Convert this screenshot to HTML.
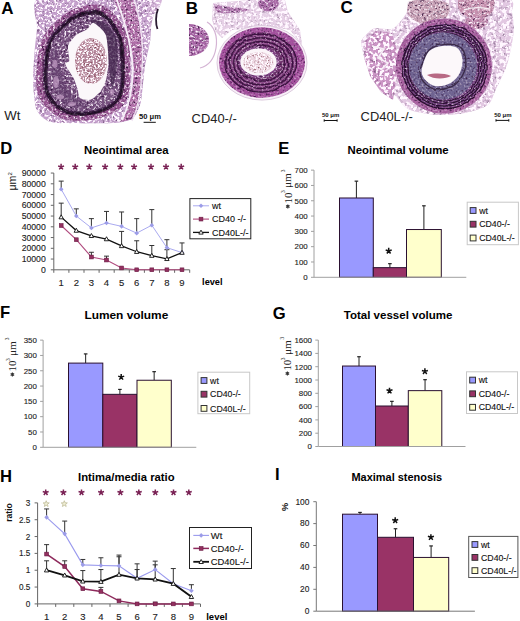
<!DOCTYPE html>
<html><head><meta charset="utf-8"><title>Figure</title>
<style>
html,body{margin:0;padding:0;background:#fff;}
body{width:520px;height:621px;overflow:hidden;font-family:"Liberation Sans",sans-serif;}
svg{display:block;}
</style></head><body>
<svg width="520" height="621" viewBox="0 0 520 621">
<rect width="520" height="621" fill="#fff"/>
<defs>
<filter id="lace" x="0" y="0" width="1" height="1" filterUnits="objectBoundingBox" color-interpolation-filters="sRGB">
    <feTurbulence type="fractalNoise" baseFrequency="0.4" numOctaves="2" seed="7" result="n"/>
    <feColorMatrix in="n" type="matrix" values="0 0 0 0 1  0 0 0 0 0.97  0 0 0 0 1  7.04 0 0 0 -3.41" result="sp"/>
    <feGaussianBlur in="sp" stdDeviation="0.35" result="spb"/>
    <feComposite in="spb" in2="SourceAlpha" operator="in" result="spc"/>
    <feColorMatrix in="n" type="matrix" values="0 0 0 0 0.18  0 0 0 0 0.06  0 0 0 0 0.22  0 -1.92 0 0 0.87" result="dk"/>
    <feGaussianBlur in="dk" stdDeviation="0.35" result="dkb"/>
    <feComposite in="dkb" in2="SourceAlpha" operator="in" result="dkc"/>
    <feMerge><feMergeNode in="SourceGraphic"/><feMergeNode in="dkc"/><feMergeNode in="spc"/></feMerge>
  </filter>
<filter id="laceC" x="0" y="0" width="1" height="1" filterUnits="objectBoundingBox" color-interpolation-filters="sRGB">
    <feTurbulence type="fractalNoise" baseFrequency="0.3" numOctaves="2" seed="13" result="n"/>
    <feColorMatrix in="n" type="matrix" values="0 0 0 0 1  0 0 0 0 0.97  0 0 0 0 1  8.96 0 0 0 -4.34" result="sp"/>
    <feGaussianBlur in="sp" stdDeviation="0.4" result="spb"/>
    <feComposite in="spb" in2="SourceAlpha" operator="in" result="spc"/>
    <feColorMatrix in="n" type="matrix" values="0 0 0 0 0.18  0 0 0 0 0.06  0 0 0 0 0.22  0 -1.60 0 0 0.72" result="dk"/>
    <feGaussianBlur in="dk" stdDeviation="0.4" result="dkb"/>
    <feComposite in="dkb" in2="SourceAlpha" operator="in" result="dkc"/>
    <feMerge><feMergeNode in="SourceGraphic"/><feMergeNode in="dkc"/><feMergeNode in="spc"/></feMerge>
  </filter>
<filter id="laceB" x="0" y="0" width="1" height="1" filterUnits="objectBoundingBox" color-interpolation-filters="sRGB">
    <feTurbulence type="fractalNoise" baseFrequency="0.35" numOctaves="2" seed="17" result="n"/>
    <feColorMatrix in="n" type="matrix" values="0 0 0 0 1  0 0 0 0 0.97  0 0 0 0 1  8.32 0 0 0 -4.03" result="sp"/>
    <feGaussianBlur in="sp" stdDeviation="0.35" result="spb"/>
    <feComposite in="spb" in2="SourceAlpha" operator="in" result="spc"/>
    <feColorMatrix in="n" type="matrix" values="0 0 0 0 0.18  0 0 0 0 0.06  0 0 0 0 0.22  0 -1.28 0 0 0.58" result="dk"/>
    <feGaussianBlur in="dk" stdDeviation="0.35" result="dkb"/>
    <feComposite in="dkb" in2="SourceAlpha" operator="in" result="dkc"/>
    <feMerge><feMergeNode in="SourceGraphic"/><feMergeNode in="dkc"/><feMergeNode in="spc"/></feMerge>
  </filter>
<filter id="mot" x="0" y="0" width="1" height="1" filterUnits="objectBoundingBox" color-interpolation-filters="sRGB">
    <feTurbulence type="fractalNoise" baseFrequency="0.45" numOctaves="2" seed="11" result="n"/>
    <feColorMatrix in="n" type="matrix" values="0 0 0 0 1  0 0 0 0 0.97  0 0 0 0 1  3.20 0 0 0 -1.55" result="sp"/>
    <feGaussianBlur in="sp" stdDeviation="0.35" result="spb"/>
    <feComposite in="spb" in2="SourceAlpha" operator="in" result="spc"/>
    <feColorMatrix in="n" type="matrix" values="0 0 0 0 0.18  0 0 0 0 0.06  0 0 0 0 0.22  0 -3.20 0 0 1.45" result="dk"/>
    <feGaussianBlur in="dk" stdDeviation="0.35" result="dkb"/>
    <feComposite in="dkb" in2="SourceAlpha" operator="in" result="dkc"/>
    <feMerge><feMergeNode in="SourceGraphic"/><feMergeNode in="dkc"/><feMergeNode in="spc"/></feMerge>
  </filter>
<filter id="mot2" x="0" y="0" width="1" height="1" filterUnits="objectBoundingBox" color-interpolation-filters="sRGB">
    <feTurbulence type="fractalNoise" baseFrequency="0.5" numOctaves="2" seed="29" result="n"/>
    <feColorMatrix in="n" type="matrix" values="0 0 0 0 1  0 0 0 0 0.97  0 0 0 0 1  2.56 0 0 0 -1.24" result="sp"/>
    <feGaussianBlur in="sp" stdDeviation="0.3" result="spb"/>
    <feComposite in="spb" in2="SourceAlpha" operator="in" result="spc"/>
    <feColorMatrix in="n" type="matrix" values="0 0 0 0 0.18  0 0 0 0 0.06  0 0 0 0 0.22  0 -3.84 0 0 1.74" result="dk"/>
    <feGaussianBlur in="dk" stdDeviation="0.3" result="dkb"/>
    <feComposite in="dkb" in2="SourceAlpha" operator="in" result="dkc"/>
    <feMerge><feMergeNode in="SourceGraphic"/><feMergeNode in="dkc"/><feMergeNode in="spc"/></feMerge>
  </filter>
<filter id="motS" x="0" y="0" width="1" height="1" filterUnits="objectBoundingBox" color-interpolation-filters="sRGB">
    <feTurbulence type="fractalNoise" baseFrequency="0.5" numOctaves="2" seed="31" result="n"/>
    <feColorMatrix in="n" type="matrix" values="0 0 0 0 1  0 0 0 0 0.97  0 0 0 0 1  1.44 0 0 0 -0.70" result="sp"/>
    <feGaussianBlur in="sp" stdDeviation="0.3" result="spb"/>
    <feComposite in="spb" in2="SourceAlpha" operator="in" result="spc"/>
    <feColorMatrix in="n" type="matrix" values="0 0 0 0 0.18  0 0 0 0 0.06  0 0 0 0 0.22  0 -2.88 0 0 1.30" result="dk"/>
    <feGaussianBlur in="dk" stdDeviation="0.3" result="dkb"/>
    <feComposite in="dkb" in2="SourceAlpha" operator="in" result="dkc"/>
    <feMerge><feMergeNode in="SourceGraphic"/><feMergeNode in="dkc"/><feMergeNode in="spc"/></feMerge>
  </filter>
<filter id="clot" x="0" y="0" width="1" height="1" filterUnits="objectBoundingBox" color-interpolation-filters="sRGB">
    <feTurbulence type="fractalNoise" baseFrequency="0.55" numOctaves="2" seed="3" result="n"/>
    <feColorMatrix in="n" type="matrix" values="0 0 0 0 1  0 0 0 0 0.98  0 0 0 0 1  7.68 0 0 0 -3.72" result="sp"/>
    <feGaussianBlur in="sp" stdDeviation="0.3" result="spb"/>
    <feComposite in="spb" in2="SourceAlpha" operator="in" result="spc"/>
    <feColorMatrix in="n" type="matrix" values="0 0 0 0 0.45  0 0 0 0 0.2  0 0 0 0 0.25  0 -3.20 0 0 1.45" result="dk"/>
    <feGaussianBlur in="dk" stdDeviation="0.3" result="dkb"/>
    <feComposite in="dkb" in2="SourceAlpha" operator="in" result="dkc"/>
    <feMerge><feMergeNode in="SourceGraphic"/><feMergeNode in="dkc"/><feMergeNode in="spc"/></feMerge>
  </filter>
<filter id="wavy" x="-10%" y="-10%" width="120%" height="120%">
    <feTurbulence type="turbulence" baseFrequency="0.12" numOctaves="1" seed="5" result="t"/>
    <feDisplacementMap in="SourceGraphic" in2="t" scale="2.5" xChannelSelector="R" yChannelSelector="G" result="d"/>
    <feGaussianBlur in="d" stdDeviation="0.35"/>
  </filter>
  <filter id="b1"><feGaussianBlur stdDeviation="0.7"/></filter>
  <filter id="b05"><feGaussianBlur stdDeviation="0.45"/></filter>
  <filter id="b2"><feGaussianBlur stdDeviation="1.5"/></filter>
</defs>
<g id="imgA">
<path d="M39.8,-2.0C51.2,-4.9 140.3,-3.5 151.5,-2.0C162.7,-0.5 151.6,9.3 151.5,13.5C151.4,17.7 150.9,35.0 150.2,40.4C149.5,45.8 145.7,61.1 144.8,67.3C143.9,73.5 142.0,97.2 140.8,102.3C139.6,107.4 135.4,116.4 132.7,118.5C130.0,120.6 121.4,122.5 113.9,123.0C106.4,123.5 64.3,123.5 57.3,123.0C50.3,122.5 45.9,120.0 43.8,118.5C41.6,117.0 36.9,111.5 35.8,107.7C34.7,103.9 33.2,86.2 33.1,80.8C33.0,75.4 34.0,59.2 34.4,53.8C34.8,48.4 36.6,32.6 37.1,27.0C37.6,21.4 28.4,0.9 39.8,-2.0Z" fill="#c4a0cc" filter="url(#lace)"/>
<path d="M77.7,7.7C85.1,5.7 96.1,2.4 104.0,6.2C112.0,10.1 121.0,20.6 125.4,31.0C129.8,41.3 130.4,56.2 130.4,68.1C130.4,80.0 130.3,94.0 125.4,102.2C120.4,110.5 110.8,114.8 100.7,117.7C90.6,120.5 74.7,122.3 64.6,119.2C54.5,116.0 44.6,107.5 40.0,99.0C35.3,90.5 36.1,78.4 36.7,68.1C37.2,57.8 39.4,45.4 43.3,37.2C47.1,28.9 53.9,23.4 59.6,18.5C65.3,13.6 70.3,9.8 77.7,7.7Z" fill="#94528f" filter="url(#mot)"/>
<path d="M114,0 C124,22 133,45 134,70 C133,95 128,110 120,122 L133,119 C140,104 142,85 142,67 C143,45 140,20 133,0 Z" fill="#b06ea8" filter="url(#mot)"/>
<path d="M116.5,-1 C126,25 132.5,50 132.7,70 C132.5,92 128,108 122,120" stroke="#f6eef8" stroke-width="1.8" fill="none" filter="url(#b05)"/>
<path d="M134,-1 C141,20 143.5,45 142,70 C141,90 138,108 132,121" stroke="#f0e4f2" stroke-width="1.2" fill="none" filter="url(#b05)"/>
<path d="M78.4,12.2C84.9,10.3 94.7,7.3 101.7,10.8C108.8,14.4 116.7,24.1 120.6,33.5C124.5,43.0 125.0,56.7 125.0,67.6C125.0,78.5 125.0,91.3 120.6,98.9C116.2,106.5 107.8,110.5 98.8,113.1C89.8,115.6 75.8,117.3 66.8,114.4C57.9,111.6 49.1,103.8 45.0,96.0C40.9,88.2 41.6,77.1 42.1,67.6C42.6,58.1 44.5,46.8 47.9,39.2C51.3,31.6 57.3,26.6 62.4,22.1C67.5,17.6 71.8,14.1 78.4,12.2Z" fill="#6c3468" filter="url(#mot2)"/>
<path d="M78.5,13.0C84.9,11.2 94.4,8.2 101.2,11.7C108.1,15.2 115.8,24.7 119.6,34.0C123.4,43.3 123.9,56.8 123.9,67.5C123.9,78.2 123.8,90.9 119.6,98.3C115.3,105.8 107.1,109.7 98.4,112.2C89.7,114.8 76.0,116.4 67.3,113.6C58.6,110.8 50.1,103.1 46.1,95.4C42.1,87.7 42.8,76.8 43.3,67.5C43.7,58.2 45.6,47.0 48.9,39.6C52.2,32.1 58.1,27.2 63.0,22.8C67.9,18.3 72.2,14.9 78.5,13.0Z" fill="#4c2856" filter="url(#mot2)"/>
<path d="M79.0,16.1C84.8,14.4 93.5,11.6 99.8,14.9C106.1,18.1 113.2,27.0 116.7,35.8C120.2,44.5 120.7,57.1 120.7,67.2C120.7,77.2 120.6,89.0 116.7,96.0C112.8,103.0 105.2,106.7 97.2,109.0C89.2,111.4 76.7,112.9 68.7,110.3C60.6,107.7 52.8,100.5 49.2,93.3C45.5,86.1 46.1,75.9 46.6,67.2C47.0,58.4 48.7,48.0 51.8,41.0C54.8,34.0 60.2,29.4 64.7,25.3C69.2,21.1 73.1,17.9 79.0,16.1Z" fill="#77507f" filter="url(#mot)"/>
<path d="M78.6,13.6C84.9,11.8 94.2,8.8 100.9,12.3C107.7,15.7 115.3,25.1 119.0,34.3C122.7,43.5 123.2,56.8 123.2,67.4C123.2,78.0 123.2,90.5 119.0,97.9C114.8,105.2 106.7,109.1 98.1,111.6C89.6,114.1 76.2,115.7 67.6,112.9C59.0,110.2 50.7,102.6 46.7,95.0C42.8,87.4 43.5,76.6 44.0,67.4C44.4,58.2 46.3,47.2 49.5,39.9C52.8,32.5 58.5,27.6 63.4,23.3C68.2,18.9 72.4,15.4 78.6,13.6Z" fill="none" stroke="#1e0c22" stroke-width="0.9" filter="url(#wavy)"/>
<path d="M78.8,14.6C84.9,12.8 93.9,9.9 100.5,13.3C107.0,16.7 114.5,25.9 118.1,34.9C121.7,43.9 122.2,56.9 122.2,67.3C122.2,77.7 122.1,89.9 118.1,97.1C114.0,104.4 106.1,108.1 97.8,110.6C89.4,113.1 76.4,114.6 68.0,111.9C59.7,109.2 51.6,101.8 47.7,94.3C43.9,86.9 44.6,76.3 45.0,67.3C45.5,58.3 47.3,47.5 50.4,40.3C53.6,33.1 59.2,28.3 63.9,24.0C68.6,19.8 72.7,16.4 78.8,14.6Z" fill="none" stroke="#1e0c22" stroke-width="1.1" filter="url(#wavy)"/>
<path d="M78.9,15.7C84.8,14.0 93.6,11.2 100.0,14.5C106.3,17.8 113.5,26.8 117.1,35.5C120.6,44.3 121.0,57.1 121.0,67.2C121.0,77.3 121.0,89.3 117.1,96.3C113.1,103.3 105.5,107.0 97.4,109.4C89.3,111.8 76.6,113.4 68.5,110.7C60.4,108.1 52.5,100.8 48.8,93.6C45.1,86.3 45.7,76.0 46.2,67.2C46.6,58.4 48.4,47.9 51.4,40.8C54.5,33.8 59.9,29.1 64.5,25.0C69.1,20.8 73.0,17.5 78.9,15.7Z" fill="none" stroke="#2a1430" stroke-width="1" filter="url(#wavy)"/>
<path d="M52,50 C50,70 52,90 62,102 C70,108 80,108 88,106 C76,100 66,90 62,75 C60,65 58,55 56,48 Z" fill="#5e3a6a" opacity="0.55" filter="url(#b1)"/>
<path d="M90,20 C102,18 113,27 117,40 C119,55 117,75 112,90 C109,70 108,50 104,38 C100,30 95,25 90,20 Z" fill="#42264e" opacity="0.7" filter="url(#b1)"/>
<g fill="#c6a0c8" opacity="0.7" filter="url(#b1)"><ellipse cx="56" cy="82" rx="3" ry="6"/><ellipse cx="60" cy="97" rx="4" ry="2.5"/><ellipse cx="55" cy="64" rx="2.5" ry="4"/><ellipse cx="72" cy="104" rx="4" ry="2"/><ellipse cx="112" cy="92" rx="2" ry="3"/></g>
<path d="M93.7,22.9C95.9,23.5 104.1,30.4 105.8,35.0C107.5,39.5 108.5,56.6 108.5,61.9C108.5,67.2 106.7,77.3 105.8,80.8C104.9,84.3 102.1,89.3 100.4,91.5C98.7,93.7 93.4,98.8 91.0,99.6C88.6,100.4 81.8,99.5 80.2,98.3C78.6,97.1 78.3,91.3 77.5,88.9C76.7,86.5 74.8,80.5 73.5,78.0C72.2,75.5 67.6,69.0 66.7,67.3C65.8,65.6 65.1,64.1 65.4,63.3C65.7,62.5 69.1,62.6 69.4,60.6C69.7,58.6 67.3,48.8 68.1,45.8C68.9,42.8 74.0,36.9 76.2,35.0C78.4,33.1 84.9,31.0 86.9,29.6C88.9,28.2 91.5,22.3 93.7,22.9Z" fill="#fbf7fa" filter="url(#b05)"/>
<ellipse cx="91" cy="61" rx="16" ry="23" fill="#c49aac" filter="url(#clot)"/>
<ellipse cx="91" cy="62" rx="10" ry="15" fill="#a87a90" opacity="0.45" filter="url(#clot)"/>
<path d="M148,0 L162,0 C161,6 158,10 154,14 C152,20 151,26 150,32 L148,20 Z" fill="#d4b4d8" filter="url(#lace)"/>
<path d="M158,9 C155.5,15 155.5,24 157.5,29" stroke="#2a1a30" stroke-width="1.8" fill="none" filter="url(#b05)"/>
</g>
<g id="imgB">
<path d="M213,3 L250,0 L285,0 L288,12 L300,30 L302,45 L290,30 L270,26 L250,28 L232,30 L222,38 L216,32 L212,20 Z" fill="#e6d0e6" filter="url(#laceB)"/>
<path d="M214,4 C225,8 238,6 250,10 C238,14 224,14 216,12 Z" fill="#b27ab0" filter="url(#mot)"/>
<path d="M207,22 C214,26 218,36 216,48 C214,60 208,66 200,68" stroke="#d4b4d4" stroke-width="1.2" fill="none"/>
<ellipse cx="268.5" cy="2" rx="10.5" ry="9.5" fill="#a86aa6" filter="url(#mot)"/>
<path d="M189,24 C200,24 209,31 209,40 C209,49 200,56 189,56 Z" fill="#a866a6" filter="url(#mot)"/>
<ellipse cx="262" cy="62.8" rx="45" ry="37.3" fill="#f8f0f8" stroke="#d4c0d6" stroke-width="0.8"/>
<ellipse cx="262" cy="62.5" rx="43" ry="35.3" fill="#a24e9c" filter="url(#motS)"/>
<ellipse cx="260.5" cy="62.3" rx="36.5" ry="29.8" fill="#6c2e6a" filter="url(#mot2)"/>
<ellipse cx="260.2" cy="62.2" rx="35.5" ry="29" fill="none" stroke="#3a1240" stroke-width="1.2" filter="url(#wavy)"/>
<ellipse cx="260.2" cy="62.2" rx="31.5" ry="25.3" fill="none" stroke="#3a1240" stroke-width="1.1" filter="url(#wavy)"/>
<ellipse cx="260.2" cy="62.2" rx="27.5" ry="21.6" fill="none" stroke="#3a1240" stroke-width="1.1" filter="url(#wavy)"/>
<ellipse cx="260.2" cy="62.2" rx="23.6" ry="18" fill="none" stroke="#3a1240" stroke-width="1.0" filter="url(#wavy)"/>
<ellipse cx="260.2" cy="62.2" rx="33.5" ry="27.1" fill="none" stroke="#a866a6" stroke-width="0.9" filter="url(#wavy)"/>
<ellipse cx="260.2" cy="62.2" rx="29.5" ry="23.4" fill="none" stroke="#a866a6" stroke-width="0.9" filter="url(#wavy)"/>
<ellipse cx="260.2" cy="62.2" rx="25.5" ry="19.8" fill="none" stroke="#a866a6" stroke-width="0.9" filter="url(#wavy)"/>
<ellipse cx="258.8" cy="62" rx="20.8" ry="16" fill="#804284" filter="url(#mot)"/>
<ellipse cx="258.5" cy="62" rx="18.2" ry="13.6" fill="#fbf5f9" filter="url(#b05)"/>
<ellipse cx="258.5" cy="62.5" rx="15" ry="10.5" fill="#ecd4e0" filter="url(#clot)"/>
</g>
<g id="imgC">
<path d="M362.0,39.7C363.6,37.2 369.9,30.1 374.0,28.6C378.1,27.1 388.8,30.5 393.0,28.6C397.2,26.7 403.5,17.7 405.8,14.3C408.1,10.9 407.1,5.2 410.5,3.2C413.9,1.2 418.1,-0.4 431.0,-1.0C443.9,-1.6 496.2,-2.8 507.0,-1.0C517.8,0.8 511.1,8.3 512.0,12.7C512.9,17.1 514.3,24.9 513.7,31.7C513.1,38.5 509.8,55.9 507.4,63.5C505.0,71.1 498.6,83.4 496.0,88.9C493.4,94.4 492.0,101.6 488.0,104.8C484.0,108.0 472.7,111.3 466.0,112.7C459.3,114.1 445.1,115.4 437.5,115.0C429.9,114.6 414.7,112.1 409.0,109.5C403.3,106.9 398.1,97.9 394.7,95.2C391.3,92.5 386.4,91.0 383.6,88.9C380.8,86.8 376.3,82.8 374.0,79.4C371.7,76.0 367.6,67.7 366.0,63.5C364.4,59.3 362.5,50.8 362.0,47.6C361.5,44.4 360.4,42.2 362.0,39.7Z" fill="#e2c8e2" filter="url(#laceC)"/>
<path d="M408,2 C420,-2 440,-2 449,4 C452,12 446,22 432,24 C420,25 410,20 407,12 Z" fill="#c7a0b4" filter="url(#mot)"/>
<path d="M458,0 L494,0 C496,8 492,17 480,19 C468,20 459,14 458,6 Z" fill="#c690ae" filter="url(#mot)"/>
<path d="M464,10 C472,7 480,7 489,9" stroke="#f6eef4" stroke-width="1.4" fill="none" filter="url(#b05)"/>
<path d="M464.5,20 C470,15 482,15 488,20 C488,26 482,29 476,29 C469,29 464,26 464.5,20 Z" fill="#c088ac" filter="url(#mot)"/>
<path d="M364,42 L376,31 L392,33 L398,55 L396,80 L393,100 L381,92 L370,76 L365,60 Z" fill="#cc96c6" filter="url(#laceC)"/>
<path d="M372,46 L384,49 L378,58 L388,63 L381,70" stroke="#f6eef6" stroke-width="1.6" fill="none" filter="url(#b05)"/>
<ellipse cx="443.9" cy="66" rx="48" ry="47.5" fill="#a65e9e" filter="url(#motS)"/>
<ellipse cx="443.9" cy="66" rx="42.5" ry="42" fill="#764482" filter="url(#mot2)"/>
<ellipse cx="443.9" cy="66" rx="42.3" ry="41.8" fill="none" stroke="#2a1030" stroke-width="1.3" filter="url(#wavy)"/>
<ellipse cx="443.9" cy="66" rx="39.6" ry="39.1" fill="none" stroke="#2a1030" stroke-width="1.2" filter="url(#wavy)"/>
<ellipse cx="443.9" cy="66" rx="37" ry="36.5" fill="none" stroke="#2a1030" stroke-width="1.2" filter="url(#wavy)"/>
<ellipse cx="443.9" cy="66" rx="34.6" ry="34.1" fill="none" stroke="#2a1030" stroke-width="1.0" filter="url(#wavy)"/>
<ellipse cx="442.9" cy="66" rx="34" ry="33.5" fill="#6e6290" filter="url(#motS)"/>
<path d="M421.1,63.2C422.5,59.1 424.6,52.2 428.1,49.0C431.7,45.7 437.3,44.2 442.3,43.6C447.4,43.0 454.6,43.0 458.4,45.4C462.1,47.8 464.1,53.1 464.7,57.8C465.3,62.6 464.2,69.3 461.9,73.8C459.7,78.4 455.6,82.8 451.2,85.3C446.7,87.7 439.7,89.1 435.3,88.7C430.8,88.3 427.2,85.3 424.5,82.8C421.9,80.3 419.8,77.1 419.3,73.8C418.7,70.6 419.6,67.3 421.1,63.2Z" fill="none" stroke="#3a2a48" stroke-width="1.4" filter="url(#wavy)"/>
<path d="M423.3,63.5C424.6,59.8 426.4,53.7 429.6,50.8C432.8,47.9 437.8,46.5 442.3,46.0C446.8,45.5 453.3,45.5 456.6,47.6C459.9,49.7 461.8,54.5 462.3,58.7C462.8,62.9 461.8,68.9 459.8,73.0C457.8,77.1 454.2,81.0 450.2,83.2C446.2,85.4 440.0,86.7 436.0,86.3C432.0,85.9 428.8,83.2 426.4,81.0C424.0,78.8 422.2,75.9 421.7,73.0C421.2,70.1 422.0,67.2 423.3,63.5Z" fill="#fcf8fa" filter="url(#b05)"/>
<path d="M427,75 C434,73 444,73 451,76 C446,79 434,80 427,75 Z" fill="#b86a84" filter="url(#b05)"/>
</g>
<text x="1.3" y="13.6" font-size="17" font-weight="bold" fill="#000" font-family="Liberation Sans, sans-serif">A</text>
<text x="185.8" y="13.6" font-size="17" font-weight="bold" fill="#000" font-family="Liberation Sans, sans-serif">B</text>
<text x="340.6" y="13.1" font-size="17" font-weight="bold" fill="#000" font-family="Liberation Sans, sans-serif">C</text>
<text x="4.2" y="119.9" font-size="13.2" fill="#222" font-family="Liberation Sans, sans-serif">Wt</text>
<text x="191.6" y="122.5" font-size="12.9" fill="#222" font-family="Liberation Sans, sans-serif">CD40-/-</text>
<text x="360.6" y="121.1" font-size="12.9" fill="#222" font-family="Liberation Sans, sans-serif">CD40L-/-</text>
<text x="139" y="119.3" font-size="7.6" font-weight="bold" fill="#111" font-family="Liberation Sans, sans-serif">50 μm</text>
<line x1="143.6" y1="122.3" x2="155.8" y2="122.3" stroke="#111" stroke-width="1"/>
<text x="322" y="116.8" font-size="6" font-weight="bold" fill="#111" font-family="Liberation Sans, sans-serif">50 μm</text>
<line x1="324.2" y1="120.5" x2="337.1" y2="120.5" stroke="#111" stroke-width="1"/>
<line x1="324.2" y1="119.3" x2="324.2" y2="121.7" stroke="#111" stroke-width="1"/>
<line x1="337.1" y1="119.3" x2="337.1" y2="121.7" stroke="#111" stroke-width="1"/>
<text x="494.2" y="117" font-size="6" font-weight="bold" fill="#111" font-family="Liberation Sans, sans-serif">50 μm</text>
<line x1="496" y1="120.4" x2="508.8" y2="120.4" stroke="#111" stroke-width="1"/>
<line x1="496" y1="119.2" x2="496" y2="121.6" stroke="#111" stroke-width="1"/>
<line x1="508.8" y1="119.2" x2="508.8" y2="121.6" stroke="#111" stroke-width="1"/>
<text x="0.2" y="154.4" font-size="16.6" text-anchor="start" font-weight="bold" fill="#000" font-family="Liberation Sans, sans-serif" >D</text>
<text x="84" y="154.4" font-size="11.3" text-anchor="start" font-weight="bold" fill="#000" font-family="Liberation Sans, sans-serif"  textLength="84.7" lengthAdjust="spacingAndGlyphs">Neointimal area</text>
<line x1="53.8" y1="173.05" x2="53.8" y2="269.8" stroke="#666" stroke-width="1"/>
<line x1="50.8" y1="269.80" x2="53.8" y2="269.80" stroke="#666" stroke-width="1"/>
<text x="45.8" y="272.90000000000003" font-size="8.7" text-anchor="end" fill="#222" font-family="Liberation Sans, sans-serif"  stroke="#222" stroke-width="0.12">0</text>
<line x1="50.8" y1="259.05" x2="53.8" y2="259.05" stroke="#666" stroke-width="1"/>
<text x="45.8" y="262.15000000000003" font-size="8.7" text-anchor="end" fill="#222" font-family="Liberation Sans, sans-serif"  stroke="#222" stroke-width="0.12">10000</text>
<line x1="50.8" y1="248.30" x2="53.8" y2="248.30" stroke="#666" stroke-width="1"/>
<text x="45.8" y="251.4" font-size="8.7" text-anchor="end" fill="#222" font-family="Liberation Sans, sans-serif"  stroke="#222" stroke-width="0.12">20000</text>
<line x1="50.8" y1="237.55" x2="53.8" y2="237.55" stroke="#666" stroke-width="1"/>
<text x="45.8" y="240.65" font-size="8.7" text-anchor="end" fill="#222" font-family="Liberation Sans, sans-serif"  stroke="#222" stroke-width="0.12">30000</text>
<line x1="50.8" y1="226.80" x2="53.8" y2="226.80" stroke="#666" stroke-width="1"/>
<text x="45.8" y="229.9" font-size="8.7" text-anchor="end" fill="#222" font-family="Liberation Sans, sans-serif"  stroke="#222" stroke-width="0.12">40000</text>
<line x1="50.8" y1="216.05" x2="53.8" y2="216.05" stroke="#666" stroke-width="1"/>
<text x="45.8" y="219.15" font-size="8.7" text-anchor="end" fill="#222" font-family="Liberation Sans, sans-serif"  stroke="#222" stroke-width="0.12">50000</text>
<line x1="50.8" y1="205.30" x2="53.8" y2="205.30" stroke="#666" stroke-width="1"/>
<text x="45.8" y="208.4" font-size="8.7" text-anchor="end" fill="#222" font-family="Liberation Sans, sans-serif"  stroke="#222" stroke-width="0.12">60000</text>
<line x1="50.8" y1="194.55" x2="53.8" y2="194.55" stroke="#666" stroke-width="1"/>
<text x="45.8" y="197.65" font-size="8.7" text-anchor="end" fill="#222" font-family="Liberation Sans, sans-serif"  stroke="#222" stroke-width="0.12">70000</text>
<line x1="50.8" y1="183.80" x2="53.8" y2="183.80" stroke="#666" stroke-width="1"/>
<text x="45.8" y="186.9" font-size="8.7" text-anchor="end" fill="#222" font-family="Liberation Sans, sans-serif"  stroke="#222" stroke-width="0.12">80000</text>
<line x1="50.8" y1="173.05" x2="53.8" y2="173.05" stroke="#666" stroke-width="1"/>
<text x="45.8" y="176.15" font-size="8.7" text-anchor="end" fill="#222" font-family="Liberation Sans, sans-serif"  stroke="#222" stroke-width="0.12">90000</text>
<line x1="53.8" y1="269.8" x2="189.6" y2="269.8" stroke="#666" stroke-width="1"/>
<line x1="53.80" y1="269.8" x2="53.80" y2="272.8" stroke="#666" stroke-width="1"/>
<line x1="68.90" y1="269.8" x2="68.90" y2="272.8" stroke="#666" stroke-width="1"/>
<line x1="84.00" y1="269.8" x2="84.00" y2="272.8" stroke="#666" stroke-width="1"/>
<line x1="99.10" y1="269.8" x2="99.10" y2="272.8" stroke="#666" stroke-width="1"/>
<line x1="114.20" y1="269.8" x2="114.20" y2="272.8" stroke="#666" stroke-width="1"/>
<line x1="129.30" y1="269.8" x2="129.30" y2="272.8" stroke="#666" stroke-width="1"/>
<line x1="144.40" y1="269.8" x2="144.40" y2="272.8" stroke="#666" stroke-width="1"/>
<line x1="159.50" y1="269.8" x2="159.50" y2="272.8" stroke="#666" stroke-width="1"/>
<line x1="174.60" y1="269.8" x2="174.60" y2="272.8" stroke="#666" stroke-width="1"/>
<line x1="189.70" y1="269.8" x2="189.70" y2="272.8" stroke="#666" stroke-width="1"/>
<text x="61.2" y="285.6" font-size="9.5" text-anchor="middle" fill="#222" font-family="Liberation Sans, sans-serif"  stroke="#222" stroke-width="0.12">1</text>
<text x="76.3" y="285.6" font-size="9.5" text-anchor="middle" fill="#222" font-family="Liberation Sans, sans-serif"  stroke="#222" stroke-width="0.12">2</text>
<text x="91.4" y="285.6" font-size="9.5" text-anchor="middle" fill="#222" font-family="Liberation Sans, sans-serif"  stroke="#222" stroke-width="0.12">3</text>
<text x="106.5" y="285.6" font-size="9.5" text-anchor="middle" fill="#222" font-family="Liberation Sans, sans-serif"  stroke="#222" stroke-width="0.12">4</text>
<text x="121.6" y="285.6" font-size="9.5" text-anchor="middle" fill="#222" font-family="Liberation Sans, sans-serif"  stroke="#222" stroke-width="0.12">5</text>
<text x="136.7" y="285.6" font-size="9.5" text-anchor="middle" fill="#222" font-family="Liberation Sans, sans-serif"  stroke="#222" stroke-width="0.12">6</text>
<text x="151.8" y="285.6" font-size="9.5" text-anchor="middle" fill="#222" font-family="Liberation Sans, sans-serif"  stroke="#222" stroke-width="0.12">7</text>
<text x="166.9" y="285.6" font-size="9.5" text-anchor="middle" fill="#222" font-family="Liberation Sans, sans-serif"  stroke="#222" stroke-width="0.12">8</text>
<text x="182.0" y="285.6" font-size="9.5" text-anchor="middle" fill="#222" font-family="Liberation Sans, sans-serif"  stroke="#222" stroke-width="0.12">9</text>
<line x1="61.20" y1="181.11" x2="61.20" y2="189.18" stroke="#333" stroke-width="1"/>
<line x1="58.70" y1="181.11" x2="63.70" y2="181.11" stroke="#333" stroke-width="1"/>
<line x1="76.30" y1="208.85" x2="76.30" y2="216.05" stroke="#333" stroke-width="1"/>
<line x1="73.80" y1="208.85" x2="78.80" y2="208.85" stroke="#333" stroke-width="1"/>
<line x1="91.40" y1="218.63" x2="91.40" y2="227.88" stroke="#333" stroke-width="1"/>
<line x1="88.90" y1="218.63" x2="93.90" y2="218.63" stroke="#333" stroke-width="1"/>
<line x1="106.50" y1="211.43" x2="106.50" y2="222.93" stroke="#333" stroke-width="1"/>
<line x1="104.00" y1="211.43" x2="109.00" y2="211.43" stroke="#333" stroke-width="1"/>
<line x1="121.60" y1="211.97" x2="121.60" y2="226.37" stroke="#333" stroke-width="1"/>
<line x1="119.10" y1="211.97" x2="124.10" y2="211.97" stroke="#333" stroke-width="1"/>
<line x1="136.70" y1="218.63" x2="136.70" y2="233.14" stroke="#333" stroke-width="1"/>
<line x1="134.20" y1="218.63" x2="139.20" y2="218.63" stroke="#333" stroke-width="1"/>
<line x1="151.80" y1="209.60" x2="151.80" y2="225.19" stroke="#333" stroke-width="1"/>
<line x1="149.30" y1="209.60" x2="154.30" y2="209.60" stroke="#333" stroke-width="1"/>
<line x1="166.90" y1="239.70" x2="166.90" y2="247.66" stroke="#333" stroke-width="1"/>
<line x1="164.40" y1="239.70" x2="169.40" y2="239.70" stroke="#333" stroke-width="1"/>
<line x1="91.40" y1="252.28" x2="91.40" y2="257.01" stroke="#333" stroke-width="1"/>
<line x1="88.90" y1="252.28" x2="93.90" y2="252.28" stroke="#333" stroke-width="1"/>
<line x1="106.50" y1="256.15" x2="106.50" y2="260.02" stroke="#333" stroke-width="1"/>
<line x1="104.00" y1="256.15" x2="109.00" y2="256.15" stroke="#333" stroke-width="1"/>
<line x1="61.20" y1="203.15" x2="61.20" y2="217.12" stroke="#333" stroke-width="1"/>
<line x1="58.70" y1="203.15" x2="63.70" y2="203.15" stroke="#333" stroke-width="1"/>
<line x1="121.60" y1="231.42" x2="121.60" y2="245.94" stroke="#333" stroke-width="1"/>
<line x1="119.10" y1="231.42" x2="124.10" y2="231.42" stroke="#333" stroke-width="1"/>
<line x1="136.70" y1="240.78" x2="136.70" y2="251.74" stroke="#333" stroke-width="1"/>
<line x1="134.20" y1="240.78" x2="139.20" y2="240.78" stroke="#333" stroke-width="1"/>
<line x1="151.80" y1="245.50" x2="151.80" y2="255.61" stroke="#333" stroke-width="1"/>
<line x1="149.30" y1="245.50" x2="154.30" y2="245.50" stroke="#333" stroke-width="1"/>
<line x1="166.90" y1="249.70" x2="166.90" y2="258.84" stroke="#333" stroke-width="1"/>
<line x1="164.40" y1="249.70" x2="169.40" y2="249.70" stroke="#333" stroke-width="1"/>
<line x1="182.00" y1="242.93" x2="182.00" y2="252.60" stroke="#333" stroke-width="1"/>
<line x1="179.50" y1="242.93" x2="184.50" y2="242.93" stroke="#333" stroke-width="1"/>
<polyline points="61.20,189.18 76.30,216.05 91.40,227.88 106.50,222.93 121.60,226.37 136.70,233.14 151.80,225.19 166.90,247.66 182.00,252.60" fill="none" stroke="#aaaaf0" stroke-width="1"/>
<path d="M61.20,186.88L63.50,189.18L61.20,191.48L58.90,189.18Z" fill="#9c9ce8"/>
<path d="M76.30,213.75L78.60,216.05L76.30,218.35L74.00,216.05Z" fill="#9c9ce8"/>
<path d="M91.40,225.57L93.70,227.88L91.40,230.18L89.10,227.88Z" fill="#9c9ce8"/>
<path d="M106.50,220.63L108.80,222.93L106.50,225.23L104.20,222.93Z" fill="#9c9ce8"/>
<path d="M121.60,224.07L123.90,226.37L121.60,228.67L119.30,226.37Z" fill="#9c9ce8"/>
<path d="M136.70,230.84L139.00,233.14L136.70,235.44L134.40,233.14Z" fill="#9c9ce8"/>
<path d="M151.80,222.89L154.10,225.19L151.80,227.49L149.50,225.19Z" fill="#9c9ce8"/>
<path d="M166.90,245.35L169.20,247.66L166.90,249.96L164.60,247.66Z" fill="#9c9ce8"/>
<path d="M182.00,250.30L184.30,252.60L182.00,254.90L179.70,252.60Z" fill="#9c9ce8"/>
<polyline points="61.20,225.51 76.30,239.70 91.40,257.01 106.50,260.02 121.60,267.97 136.70,269.80 151.80,269.80 166.90,269.80 182.00,269.80" fill="none" stroke="#b04a7e" stroke-width="1.1"/>
<rect x="59.30" y="223.61" width="3.8" height="3.8" fill="#93305f" stroke="#6a1a44" stroke-width="0.6"/>
<rect x="74.40" y="237.80" width="3.8" height="3.8" fill="#93305f" stroke="#6a1a44" stroke-width="0.6"/>
<rect x="89.50" y="255.11" width="3.8" height="3.8" fill="#93305f" stroke="#6a1a44" stroke-width="0.6"/>
<rect x="104.60" y="258.12" width="3.8" height="3.8" fill="#93305f" stroke="#6a1a44" stroke-width="0.6"/>
<rect x="119.70" y="266.07" width="3.8" height="3.8" fill="#93305f" stroke="#6a1a44" stroke-width="0.6"/>
<rect x="134.80" y="267.90" width="3.8" height="3.8" fill="#93305f" stroke="#6a1a44" stroke-width="0.6"/>
<rect x="149.90" y="267.90" width="3.8" height="3.8" fill="#93305f" stroke="#6a1a44" stroke-width="0.6"/>
<rect x="165.00" y="267.90" width="3.8" height="3.8" fill="#93305f" stroke="#6a1a44" stroke-width="0.6"/>
<rect x="180.10" y="267.90" width="3.8" height="3.8" fill="#93305f" stroke="#6a1a44" stroke-width="0.6"/>
<polyline points="61.20,217.12 76.30,230.56 91.40,235.83 106.50,239.06 121.60,245.94 136.70,251.74 151.80,255.61 166.90,258.84 182.00,252.60" fill="none" stroke="#111111" stroke-width="1.3"/>
<path d="M61.20,214.82L63.40,218.82L59.00,218.82Z" fill="#fff" stroke="#111" stroke-width="0.9"/>
<path d="M76.30,228.26L78.50,232.26L74.10,232.26Z" fill="#fff" stroke="#111" stroke-width="0.9"/>
<path d="M91.40,233.53L93.60,237.53L89.20,237.53Z" fill="#fff" stroke="#111" stroke-width="0.9"/>
<path d="M106.50,236.75L108.70,240.75L104.30,240.75Z" fill="#fff" stroke="#111" stroke-width="0.9"/>
<path d="M121.60,243.63L123.80,247.63L119.40,247.63Z" fill="#fff" stroke="#111" stroke-width="0.9"/>
<path d="M136.70,249.44L138.90,253.44L134.50,253.44Z" fill="#fff" stroke="#111" stroke-width="0.9"/>
<path d="M151.80,253.31L154.00,257.31L149.60,257.31Z" fill="#fff" stroke="#111" stroke-width="0.9"/>
<path d="M166.90,256.54L169.10,260.54L164.70,260.54Z" fill="#fff" stroke="#111" stroke-width="0.9"/>
<path d="M182.00,250.30L184.20,254.30L179.80,254.30Z" fill="#fff" stroke="#111" stroke-width="0.9"/>
<path d="M61.10,166.90L61.10,163.80M61.10,166.90L64.05,165.94M61.10,166.90L62.92,169.41M61.10,166.90L59.28,169.41M61.10,166.90L58.15,165.94" stroke="#7a2255" stroke-width="1.5" stroke-linecap="butt" fill="none"/>
<path d="M75.20,166.90L75.20,163.80M75.20,166.90L78.15,165.94M75.20,166.90L77.02,169.41M75.20,166.90L73.38,169.41M75.20,166.90L72.25,165.94" stroke="#7a2255" stroke-width="1.5" stroke-linecap="butt" fill="none"/>
<path d="M89.30,166.90L89.30,163.80M89.30,166.90L92.25,165.94M89.30,166.90L91.12,169.41M89.30,166.90L87.48,169.41M89.30,166.90L86.35,165.94" stroke="#7a2255" stroke-width="1.5" stroke-linecap="butt" fill="none"/>
<path d="M105.10,166.90L105.10,163.80M105.10,166.90L108.05,165.94M105.10,166.90L106.92,169.41M105.10,166.90L103.28,169.41M105.10,166.90L102.15,165.94" stroke="#7a2255" stroke-width="1.5" stroke-linecap="butt" fill="none"/>
<path d="M120.30,166.90L120.30,163.80M120.30,166.90L123.25,165.94M120.30,166.90L122.12,169.41M120.30,166.90L118.48,169.41M120.30,166.90L117.35,165.94" stroke="#7a2255" stroke-width="1.5" stroke-linecap="butt" fill="none"/>
<path d="M134.10,166.90L134.10,163.80M134.10,166.90L137.05,165.94M134.10,166.90L135.92,169.41M134.10,166.90L132.28,169.41M134.10,166.90L131.15,165.94" stroke="#7a2255" stroke-width="1.5" stroke-linecap="butt" fill="none"/>
<path d="M151.00,166.90L151.00,163.80M151.00,166.90L153.95,165.94M151.00,166.90L152.82,169.41M151.00,166.90L149.18,169.41M151.00,166.90L148.05,165.94" stroke="#7a2255" stroke-width="1.5" stroke-linecap="butt" fill="none"/>
<path d="M166.00,166.90L166.00,163.80M166.00,166.90L168.95,165.94M166.00,166.90L167.82,169.41M166.00,166.90L164.18,169.41M166.00,166.90L163.05,165.94" stroke="#7a2255" stroke-width="1.5" stroke-linecap="butt" fill="none"/>
<path d="M181.20,166.90L181.20,163.80M181.20,166.90L184.15,165.94M181.20,166.90L183.02,169.41M181.20,166.90L179.38,169.41M181.20,166.90L178.25,165.94" stroke="#7a2255" stroke-width="1.5" stroke-linecap="butt" fill="none"/>
<rect x="189.9" y="198.6" width="60.900000000000006" height="40.20000000000002" fill="#fff" stroke="#222" stroke-width="1"/>
<line x1="193" y1="205.8" x2="209" y2="205.8" stroke="#aaaaf0" stroke-width="1"/>
<path d="M201.00,203.50L203.30,205.80L201.00,208.10L198.70,205.80Z" fill="#9c9ce8"/>
<text x="212.1" y="209.0" font-size="9" text-anchor="start" fill="#111" font-family="Liberation Sans, sans-serif"  stroke="#111" stroke-width="0.12">wt</text>
<line x1="193" y1="219.1" x2="209" y2="219.1" stroke="#b04a7e" stroke-width="1.1"/>
<rect x="199.10" y="217.20" width="3.8" height="3.8" fill="#93305f" stroke="#6a1a44" stroke-width="0.6"/>
<text x="212.1" y="222.29999999999998" font-size="9" text-anchor="start" fill="#111" font-family="Liberation Sans, sans-serif"  stroke="#111" stroke-width="0.12">CD40 -/-</text>
<line x1="193" y1="232.4" x2="209" y2="232.4" stroke="#111111" stroke-width="1.3"/>
<path d="M201.00,230.10L203.20,234.10L198.80,234.10Z" fill="#fff" stroke="#111" stroke-width="0.9"/>
<text x="212.1" y="235.6" font-size="9" text-anchor="start" fill="#111" font-family="Liberation Sans, sans-serif"  stroke="#111" stroke-width="0.12">CD40L-/-</text>
<text x="212.3" y="284.9" font-size="9.2" text-anchor="middle" font-weight="bold" fill="#000" font-family="Liberation Sans, sans-serif" >level</text>
<text x="0" y="0" font-size="10.6" fill="#111" font-family="Liberation Sans, sans-serif" transform="translate(16,190.5) rotate(-90)">μm<tspan font-size="6" dy="-4.5">2</tspan></text>
<text x="278.3" y="154.4" font-size="16.6" text-anchor="start" font-weight="bold" fill="#000" font-family="Liberation Sans, sans-serif" >E</text>
<text x="347.5" y="154.2" font-size="11.3" text-anchor="start" font-weight="bold" fill="#000" font-family="Liberation Sans, sans-serif"  textLength="101.1" lengthAdjust="spacingAndGlyphs">Neointimal volume</text>
<line x1="314" y1="170.13" x2="314" y2="277.3" stroke="#a0a0a0" stroke-width="1"/>
<line x1="311" y1="277.30" x2="314" y2="277.30" stroke="#a0a0a0" stroke-width="1"/>
<text x="307.7" y="280.1" font-size="7.9" text-anchor="end" fill="#222" font-family="Liberation Sans, sans-serif"  stroke="#222" stroke-width="0.12">0</text>
<line x1="311" y1="261.99" x2="314" y2="261.99" stroke="#a0a0a0" stroke-width="1"/>
<text x="307.7" y="264.79" font-size="7.9" text-anchor="end" fill="#222" font-family="Liberation Sans, sans-serif"  stroke="#222" stroke-width="0.12">100</text>
<line x1="311" y1="246.68" x2="314" y2="246.68" stroke="#a0a0a0" stroke-width="1"/>
<text x="307.7" y="249.48000000000002" font-size="7.9" text-anchor="end" fill="#222" font-family="Liberation Sans, sans-serif"  stroke="#222" stroke-width="0.12">200</text>
<line x1="311" y1="231.37" x2="314" y2="231.37" stroke="#a0a0a0" stroke-width="1"/>
<text x="307.7" y="234.17000000000002" font-size="7.9" text-anchor="end" fill="#222" font-family="Liberation Sans, sans-serif"  stroke="#222" stroke-width="0.12">300</text>
<line x1="311" y1="216.06" x2="314" y2="216.06" stroke="#a0a0a0" stroke-width="1"/>
<text x="307.7" y="218.86" font-size="7.9" text-anchor="end" fill="#222" font-family="Liberation Sans, sans-serif"  stroke="#222" stroke-width="0.12">400</text>
<line x1="311" y1="200.75" x2="314" y2="200.75" stroke="#a0a0a0" stroke-width="1"/>
<text x="307.7" y="203.55" font-size="7.9" text-anchor="end" fill="#222" font-family="Liberation Sans, sans-serif"  stroke="#222" stroke-width="0.12">500</text>
<line x1="311" y1="185.44" x2="314" y2="185.44" stroke="#a0a0a0" stroke-width="1"/>
<text x="307.7" y="188.24" font-size="7.9" text-anchor="end" fill="#222" font-family="Liberation Sans, sans-serif"  stroke="#222" stroke-width="0.12">600</text>
<line x1="311" y1="170.13" x2="314" y2="170.13" stroke="#a0a0a0" stroke-width="1"/>
<text x="307.7" y="172.93" font-size="7.9" text-anchor="end" fill="#222" font-family="Liberation Sans, sans-serif"  stroke="#222" stroke-width="0.12">700</text>
<line x1="356.4" y1="181.15" x2="356.4" y2="197.99" stroke="#222" stroke-width="1"/>
<line x1="354.59999999999997" y1="181.15" x2="358.2" y2="181.15" stroke="#222" stroke-width="1.2"/>
<rect x="339.5" y="197.99" width="33.80000000000001" height="79.31" fill="#9999ff" stroke="#2a1030" stroke-width="1"/>
<line x1="389.9" y1="263.67" x2="389.9" y2="267.65" stroke="#222" stroke-width="1"/>
<line x1="388.09999999999997" y1="263.67" x2="391.7" y2="263.67" stroke="#222" stroke-width="1.2"/>
<rect x="373.3" y="267.65" width="33.19999999999999" height="9.65" fill="#993366" stroke="#2a1030" stroke-width="1"/>
<line x1="423.9" y1="205.80" x2="423.9" y2="229.53" stroke="#222" stroke-width="1"/>
<line x1="422.09999999999997" y1="205.80" x2="425.7" y2="205.80" stroke="#222" stroke-width="1.2"/>
<rect x="406.5" y="229.53" width="34.80000000000001" height="47.77" fill="#ffffcc" stroke="#2a1030" stroke-width="1"/>
<line x1="314" y1="277.3" x2="466.3" y2="277.3" stroke="#a0a0a0" stroke-width="1"/>
<path d="M388.70,251.00L388.70,247.85M388.70,251.00L391.70,250.03M388.70,251.00L390.55,253.55M388.70,251.00L386.85,253.55M388.70,251.00L385.70,250.03" stroke="#111" stroke-width="1.5" stroke-linecap="butt" fill="none"/>
<rect x="467.2" y="202.2" width="51.19999999999999" height="42.5" fill="#fff" stroke="#c8c8c8" stroke-width="1"/>
<rect x="470.20000000000005" y="207.6" width="5.8" height="5.8" fill="#9999ff" stroke="#333" stroke-width="1"/>
<text x="479.20000000000005" y="213.6" font-size="8.75" text-anchor="start" fill="#111" font-family="Liberation Sans, sans-serif"  stroke="#111" stroke-width="0.12">wt</text>
<rect x="470.20000000000005" y="221.29999999999998" width="5.8" height="5.8" fill="#993366" stroke="#333" stroke-width="1"/>
<text x="479.20000000000005" y="227.29999999999998" font-size="8.75" text-anchor="start" fill="#111" font-family="Liberation Sans, sans-serif"  stroke="#111" stroke-width="0.12">CD40-/-</text>
<rect x="470.20000000000005" y="235.1" width="5.8" height="5.8" fill="#ffffcc" stroke="#333" stroke-width="1"/>
<text x="479.20000000000005" y="241.1" font-size="8.75" text-anchor="start" fill="#111" font-family="Liberation Sans, sans-serif"  stroke="#111" stroke-width="0.12">CD40L-/-</text>
<path d="M287.80,206.40L289.53,207.40M287.80,206.40L287.80,208.40M287.80,206.40L286.07,207.40M287.80,206.40L286.07,205.40M287.80,206.40L287.80,204.40M287.80,206.40L289.53,205.40" stroke="#333" stroke-width="1.1" fill="none"/>
<text x="0" y="0" font-size="10.9" font-family="Liberation Serif, serif" fill="#222" transform="translate(291.50,203.50) rotate(-90)">10</text>
<text x="0" y="0" font-size="5.5" font-family="Liberation Serif, serif" fill="#222" transform="translate(284.90,193.10) rotate(-90)">3</text>
<text x="0" y="0" font-size="11.3" font-family="Liberation Serif, serif" fill="#222" transform="translate(291.40,188.00) rotate(-90)">μm</text>
<text x="0" y="0" font-size="5.5" font-family="Liberation Serif, serif" fill="#222" transform="translate(284.80,172.30) rotate(-90)">3</text>
<text x="0" y="318.1" font-size="16.6" text-anchor="start" font-weight="bold" fill="#000" font-family="Liberation Sans, sans-serif" >F</text>
<text x="84.4" y="319.3" font-size="11.3" text-anchor="start" font-weight="bold" fill="#000" font-family="Liberation Sans, sans-serif"  textLength="83.9" lengthAdjust="spacingAndGlyphs">Lumen volume</text>
<line x1="43.1" y1="340.13" x2="43.1" y2="447.3" stroke="#a0a0a0" stroke-width="1"/>
<line x1="40.1" y1="447.30" x2="43.1" y2="447.30" stroke="#a0a0a0" stroke-width="1"/>
<text x="36.800000000000004" y="450.1" font-size="7.9" text-anchor="end" fill="#222" font-family="Liberation Sans, sans-serif"  stroke="#222" stroke-width="0.12">0</text>
<line x1="40.1" y1="431.99" x2="43.1" y2="431.99" stroke="#a0a0a0" stroke-width="1"/>
<text x="36.800000000000004" y="434.79" font-size="7.9" text-anchor="end" fill="#222" font-family="Liberation Sans, sans-serif"  stroke="#222" stroke-width="0.12">50</text>
<line x1="40.1" y1="416.68" x2="43.1" y2="416.68" stroke="#a0a0a0" stroke-width="1"/>
<text x="36.800000000000004" y="419.48" font-size="7.9" text-anchor="end" fill="#222" font-family="Liberation Sans, sans-serif"  stroke="#222" stroke-width="0.12">100</text>
<line x1="40.1" y1="401.37" x2="43.1" y2="401.37" stroke="#a0a0a0" stroke-width="1"/>
<text x="36.800000000000004" y="404.17" font-size="7.9" text-anchor="end" fill="#222" font-family="Liberation Sans, sans-serif"  stroke="#222" stroke-width="0.12">150</text>
<line x1="40.1" y1="386.06" x2="43.1" y2="386.06" stroke="#a0a0a0" stroke-width="1"/>
<text x="36.800000000000004" y="388.86" font-size="7.9" text-anchor="end" fill="#222" font-family="Liberation Sans, sans-serif"  stroke="#222" stroke-width="0.12">200</text>
<line x1="40.1" y1="370.75" x2="43.1" y2="370.75" stroke="#a0a0a0" stroke-width="1"/>
<text x="36.800000000000004" y="373.55" font-size="7.9" text-anchor="end" fill="#222" font-family="Liberation Sans, sans-serif"  stroke="#222" stroke-width="0.12">250</text>
<line x1="40.1" y1="355.44" x2="43.1" y2="355.44" stroke="#a0a0a0" stroke-width="1"/>
<text x="36.800000000000004" y="358.24" font-size="7.9" text-anchor="end" fill="#222" font-family="Liberation Sans, sans-serif"  stroke="#222" stroke-width="0.12">300</text>
<line x1="40.1" y1="340.13" x2="43.1" y2="340.13" stroke="#a0a0a0" stroke-width="1"/>
<text x="36.800000000000004" y="342.93" font-size="7.9" text-anchor="end" fill="#222" font-family="Liberation Sans, sans-serif"  stroke="#222" stroke-width="0.12">350</text>
<line x1="85.65" y1="353.91" x2="85.65" y2="363.10" stroke="#222" stroke-width="1"/>
<line x1="83.85000000000001" y1="353.91" x2="87.45" y2="353.91" stroke="#222" stroke-width="1.2"/>
<rect x="68.5" y="363.10" width="34.3" height="84.20" fill="#9999ff" stroke="#2a1030" stroke-width="1"/>
<line x1="119.9" y1="389.43" x2="119.9" y2="394.33" stroke="#222" stroke-width="1"/>
<line x1="118.10000000000001" y1="389.43" x2="121.7" y2="389.43" stroke="#222" stroke-width="1.2"/>
<rect x="102.8" y="394.33" width="34.2" height="52.97" fill="#993366" stroke="#2a1030" stroke-width="1"/>
<line x1="154.15" y1="371.67" x2="154.15" y2="380.24" stroke="#222" stroke-width="1"/>
<line x1="152.35" y1="371.67" x2="155.95000000000002" y2="371.67" stroke="#222" stroke-width="1.2"/>
<rect x="137" y="380.24" width="34.30000000000001" height="67.06" fill="#ffffcc" stroke="#2a1030" stroke-width="1"/>
<line x1="43.1" y1="447.3" x2="196.3" y2="447.3" stroke="#a0a0a0" stroke-width="1"/>
<path d="M121.20,377.10L121.20,373.95M121.20,377.10L124.20,376.13M121.20,377.10L123.05,379.65M121.20,377.10L119.35,379.65M121.20,377.10L118.20,376.13" stroke="#111" stroke-width="1.5" stroke-linecap="butt" fill="none"/>
<rect x="197.9" y="372.2" width="51.79999999999998" height="41.5" fill="#fff" stroke="#c8c8c8" stroke-width="1"/>
<rect x="201.1" y="377.6" width="5.8" height="5.8" fill="#9999ff" stroke="#333" stroke-width="1"/>
<text x="210.1" y="383.6" font-size="8.75" text-anchor="start" fill="#111" font-family="Liberation Sans, sans-serif"  stroke="#111" stroke-width="0.12">wt</text>
<rect x="201.1" y="391.3" width="5.8" height="5.8" fill="#993366" stroke="#333" stroke-width="1"/>
<text x="210.1" y="397.3" font-size="8.75" text-anchor="start" fill="#111" font-family="Liberation Sans, sans-serif"  stroke="#111" stroke-width="0.12">CD40-/-</text>
<rect x="201.1" y="405.5" width="5.8" height="5.8" fill="#ffffcc" stroke="#333" stroke-width="1"/>
<text x="210.1" y="411.5" font-size="8.75" text-anchor="start" fill="#111" font-family="Liberation Sans, sans-serif"  stroke="#111" stroke-width="0.12">CD40L-/-</text>
<path d="M12.40,374.40L14.13,375.40M12.40,374.40L12.40,376.40M12.40,374.40L10.67,375.40M12.40,374.40L10.67,373.40M12.40,374.40L12.40,372.40M12.40,374.40L14.13,373.40" stroke="#333" stroke-width="1.1" fill="none"/>
<text x="0" y="0" font-size="10.9" font-family="Liberation Serif, serif" fill="#222" transform="translate(16.10,371.50) rotate(-90)">10</text>
<text x="0" y="0" font-size="5.5" font-family="Liberation Serif, serif" fill="#222" transform="translate(9.50,361.10) rotate(-90)">3</text>
<text x="0" y="0" font-size="11.3" font-family="Liberation Serif, serif" fill="#222" transform="translate(16.00,356.00) rotate(-90)">μm</text>
<text x="0" y="0" font-size="5.5" font-family="Liberation Serif, serif" fill="#222" transform="translate(9.40,340.30) rotate(-90)">3</text>
<text x="272.8" y="318.6" font-size="16.6" text-anchor="start" font-weight="bold" fill="#000" font-family="Liberation Sans, sans-serif" >G</text>
<text x="343.7" y="318.8" font-size="11.3" text-anchor="start" font-weight="bold" fill="#000" font-family="Liberation Sans, sans-serif"  textLength="108.8" lengthAdjust="spacingAndGlyphs">Total vessel volume</text>
<line x1="318.3" y1="340.1" x2="318.3" y2="446.5" stroke="#a0a0a0" stroke-width="1"/>
<line x1="315.3" y1="446.50" x2="318.3" y2="446.50" stroke="#a0a0a0" stroke-width="1"/>
<text x="312.0" y="449.3" font-size="7.9" text-anchor="end" fill="#222" font-family="Liberation Sans, sans-serif"  stroke="#222" stroke-width="0.12">0</text>
<line x1="315.3" y1="433.20" x2="318.3" y2="433.20" stroke="#a0a0a0" stroke-width="1"/>
<text x="312.0" y="436.0" font-size="7.9" text-anchor="end" fill="#222" font-family="Liberation Sans, sans-serif"  stroke="#222" stroke-width="0.12">200</text>
<line x1="315.3" y1="419.90" x2="318.3" y2="419.90" stroke="#a0a0a0" stroke-width="1"/>
<text x="312.0" y="422.7" font-size="7.9" text-anchor="end" fill="#222" font-family="Liberation Sans, sans-serif"  stroke="#222" stroke-width="0.12">400</text>
<line x1="315.3" y1="406.60" x2="318.3" y2="406.60" stroke="#a0a0a0" stroke-width="1"/>
<text x="312.0" y="409.40000000000003" font-size="7.9" text-anchor="end" fill="#222" font-family="Liberation Sans, sans-serif"  stroke="#222" stroke-width="0.12">600</text>
<line x1="315.3" y1="393.30" x2="318.3" y2="393.30" stroke="#a0a0a0" stroke-width="1"/>
<text x="312.0" y="396.1" font-size="7.9" text-anchor="end" fill="#222" font-family="Liberation Sans, sans-serif"  stroke="#222" stroke-width="0.12">800</text>
<line x1="315.3" y1="380.00" x2="318.3" y2="380.00" stroke="#a0a0a0" stroke-width="1"/>
<text x="312.0" y="382.8" font-size="7.9" text-anchor="end" fill="#222" font-family="Liberation Sans, sans-serif"  stroke="#222" stroke-width="0.12">1000</text>
<line x1="315.3" y1="366.70" x2="318.3" y2="366.70" stroke="#a0a0a0" stroke-width="1"/>
<text x="312.0" y="369.5" font-size="7.9" text-anchor="end" fill="#222" font-family="Liberation Sans, sans-serif"  stroke="#222" stroke-width="0.12">1200</text>
<line x1="315.3" y1="353.40" x2="318.3" y2="353.40" stroke="#a0a0a0" stroke-width="1"/>
<text x="312.0" y="356.2" font-size="7.9" text-anchor="end" fill="#222" font-family="Liberation Sans, sans-serif"  stroke="#222" stroke-width="0.12">1400</text>
<line x1="315.3" y1="340.10" x2="318.3" y2="340.10" stroke="#a0a0a0" stroke-width="1"/>
<text x="312.0" y="342.90000000000003" font-size="7.9" text-anchor="end" fill="#222" font-family="Liberation Sans, sans-serif"  stroke="#222" stroke-width="0.12">1600</text>
<line x1="359.0" y1="356.73" x2="359.0" y2="366.03" stroke="#222" stroke-width="1"/>
<line x1="357.2" y1="356.73" x2="360.8" y2="356.73" stroke="#222" stroke-width="1.2"/>
<rect x="342.5" y="366.03" width="33.0" height="80.47" fill="#9999ff" stroke="#2a1030" stroke-width="1"/>
<line x1="391.9" y1="401.35" x2="391.9" y2="406.00" stroke="#222" stroke-width="1"/>
<line x1="390.09999999999997" y1="401.35" x2="393.7" y2="401.35" stroke="#222" stroke-width="1.2"/>
<rect x="375.5" y="406.00" width="32.80000000000001" height="40.50" fill="#993366" stroke="#2a1030" stroke-width="1"/>
<line x1="425.05" y1="379.67" x2="425.05" y2="390.64" stroke="#222" stroke-width="1"/>
<line x1="423.25" y1="379.67" x2="426.85" y2="379.67" stroke="#222" stroke-width="1.2"/>
<rect x="408.3" y="390.64" width="33.5" height="55.86" fill="#ffffcc" stroke="#2a1030" stroke-width="1"/>
<line x1="318.3" y1="446.5" x2="465.5" y2="446.5" stroke="#a0a0a0" stroke-width="1"/>
<path d="M389.50,390.80L389.50,387.65M389.50,390.80L392.50,389.83M389.50,390.80L391.35,393.35M389.50,390.80L387.65,393.35M389.50,390.80L386.50,389.83" stroke="#111" stroke-width="1.5" stroke-linecap="butt" fill="none"/>
<path d="M424.90,371.40L424.90,368.25M424.90,371.40L427.90,370.43M424.90,371.40L426.75,373.95M424.90,371.40L423.05,373.95M424.90,371.40L421.90,370.43" stroke="#111" stroke-width="1.5" stroke-linecap="butt" fill="none"/>
<rect x="466.5" y="371.8" width="51.0" height="41.69999999999999" fill="#fff" stroke="#c8c8c8" stroke-width="1"/>
<rect x="469.70000000000005" y="377.20000000000005" width="5.8" height="5.8" fill="#9999ff" stroke="#333" stroke-width="1"/>
<text x="478.70000000000005" y="383.20000000000005" font-size="8.75" text-anchor="start" fill="#111" font-family="Liberation Sans, sans-serif"  stroke="#111" stroke-width="0.12">wt</text>
<rect x="469.70000000000005" y="390.90000000000003" width="5.8" height="5.8" fill="#993366" stroke="#333" stroke-width="1"/>
<text x="478.70000000000005" y="396.90000000000003" font-size="8.75" text-anchor="start" fill="#111" font-family="Liberation Sans, sans-serif"  stroke="#111" stroke-width="0.12">CD40-/-</text>
<rect x="469.70000000000005" y="404.40000000000003" width="5.8" height="5.8" fill="#ffffcc" stroke="#333" stroke-width="1"/>
<text x="478.70000000000005" y="410.40000000000003" font-size="8.75" text-anchor="start" fill="#111" font-family="Liberation Sans, sans-serif"  stroke="#111" stroke-width="0.12">CD40L-/-</text>
<path d="M287.40,373.50L289.13,374.50M287.40,373.50L287.40,375.50M287.40,373.50L285.67,374.50M287.40,373.50L285.67,372.50M287.40,373.50L287.40,371.50M287.40,373.50L289.13,372.50" stroke="#333" stroke-width="1.1" fill="none"/>
<text x="0" y="0" font-size="10.9" font-family="Liberation Serif, serif" fill="#222" transform="translate(291.10,370.60) rotate(-90)">10</text>
<text x="0" y="0" font-size="5.5" font-family="Liberation Serif, serif" fill="#222" transform="translate(284.50,360.20) rotate(-90)">3</text>
<text x="0" y="0" font-size="11.3" font-family="Liberation Serif, serif" fill="#222" transform="translate(291.00,355.10) rotate(-90)">μm</text>
<text x="0" y="0" font-size="5.5" font-family="Liberation Serif, serif" fill="#222" transform="translate(284.40,339.40) rotate(-90)">3</text>
<text x="0" y="481.9" font-size="16.6" text-anchor="start" font-weight="bold" fill="#000" font-family="Liberation Sans, sans-serif" >H</text>
<text x="78" y="481.2" font-size="11.1" text-anchor="start" font-weight="bold" fill="#000" font-family="Liberation Sans, sans-serif"  textLength="96.6" lengthAdjust="spacingAndGlyphs">Intima/media ratio</text>
<line x1="37.6" y1="502.89" x2="37.6" y2="603.9" stroke="#666" stroke-width="1"/>
<line x1="34.6" y1="603.90" x2="37.6" y2="603.90" stroke="#666" stroke-width="1"/>
<text x="30.3" y="607.0" font-size="8.2" text-anchor="end" fill="#222" font-family="Liberation Sans, sans-serif"  stroke="#222" stroke-width="0.12">0</text>
<line x1="34.6" y1="587.06" x2="37.6" y2="587.06" stroke="#666" stroke-width="1"/>
<text x="30.3" y="590.165" font-size="8.2" text-anchor="end" fill="#222" font-family="Liberation Sans, sans-serif"  stroke="#222" stroke-width="0.12">0.5</text>
<line x1="34.6" y1="570.23" x2="37.6" y2="570.23" stroke="#666" stroke-width="1"/>
<text x="30.3" y="573.33" font-size="8.2" text-anchor="end" fill="#222" font-family="Liberation Sans, sans-serif"  stroke="#222" stroke-width="0.12">1</text>
<line x1="34.6" y1="553.39" x2="37.6" y2="553.39" stroke="#666" stroke-width="1"/>
<text x="30.3" y="556.495" font-size="8.2" text-anchor="end" fill="#222" font-family="Liberation Sans, sans-serif"  stroke="#222" stroke-width="0.12">1.5</text>
<line x1="34.6" y1="536.56" x2="37.6" y2="536.56" stroke="#666" stroke-width="1"/>
<text x="30.3" y="539.66" font-size="8.2" text-anchor="end" fill="#222" font-family="Liberation Sans, sans-serif"  stroke="#222" stroke-width="0.12">2</text>
<line x1="34.6" y1="519.72" x2="37.6" y2="519.72" stroke="#666" stroke-width="1"/>
<text x="30.3" y="522.8249999999999" font-size="8.2" text-anchor="end" fill="#222" font-family="Liberation Sans, sans-serif"  stroke="#222" stroke-width="0.12">2.5</text>
<line x1="34.6" y1="502.89" x2="37.6" y2="502.89" stroke="#666" stroke-width="1"/>
<text x="30.3" y="505.99" font-size="8.2" text-anchor="end" fill="#222" font-family="Liberation Sans, sans-serif"  stroke="#222" stroke-width="0.12">3</text>
<line x1="37.6" y1="603.9" x2="200.3" y2="603.9" stroke="#666" stroke-width="1"/>
<line x1="37.60" y1="603.9" x2="37.60" y2="606.9" stroke="#666" stroke-width="1"/>
<line x1="55.70" y1="603.9" x2="55.70" y2="606.9" stroke="#666" stroke-width="1"/>
<line x1="73.80" y1="603.9" x2="73.80" y2="606.9" stroke="#666" stroke-width="1"/>
<line x1="91.90" y1="603.9" x2="91.90" y2="606.9" stroke="#666" stroke-width="1"/>
<line x1="110.00" y1="603.9" x2="110.00" y2="606.9" stroke="#666" stroke-width="1"/>
<line x1="128.10" y1="603.9" x2="128.10" y2="606.9" stroke="#666" stroke-width="1"/>
<line x1="146.20" y1="603.9" x2="146.20" y2="606.9" stroke="#666" stroke-width="1"/>
<line x1="164.30" y1="603.9" x2="164.30" y2="606.9" stroke="#666" stroke-width="1"/>
<line x1="182.40" y1="603.9" x2="182.40" y2="606.9" stroke="#666" stroke-width="1"/>
<line x1="200.50" y1="603.9" x2="200.50" y2="606.9" stroke="#666" stroke-width="1"/>
<text x="46.6" y="620" font-size="9.5" text-anchor="middle" fill="#222" font-family="Liberation Sans, sans-serif"  stroke="#222" stroke-width="0.12">1</text>
<text x="64.7" y="620" font-size="9.5" text-anchor="middle" fill="#222" font-family="Liberation Sans, sans-serif"  stroke="#222" stroke-width="0.12">2</text>
<text x="82.80000000000001" y="620" font-size="9.5" text-anchor="middle" fill="#222" font-family="Liberation Sans, sans-serif"  stroke="#222" stroke-width="0.12">3</text>
<text x="100.9" y="620" font-size="9.5" text-anchor="middle" fill="#222" font-family="Liberation Sans, sans-serif"  stroke="#222" stroke-width="0.12">4</text>
<text x="119.0" y="620" font-size="9.5" text-anchor="middle" fill="#222" font-family="Liberation Sans, sans-serif"  stroke="#222" stroke-width="0.12">5</text>
<text x="137.1" y="620" font-size="9.5" text-anchor="middle" fill="#222" font-family="Liberation Sans, sans-serif"  stroke="#222" stroke-width="0.12">6</text>
<text x="155.20000000000002" y="620" font-size="9.5" text-anchor="middle" fill="#222" font-family="Liberation Sans, sans-serif"  stroke="#222" stroke-width="0.12">7</text>
<text x="173.3" y="620" font-size="9.5" text-anchor="middle" fill="#222" font-family="Liberation Sans, sans-serif"  stroke="#222" stroke-width="0.12">8</text>
<text x="191.4" y="620" font-size="9.5" text-anchor="middle" fill="#222" font-family="Liberation Sans, sans-serif"  stroke="#222" stroke-width="0.12">9</text>
<line x1="46.60" y1="508.95" x2="46.60" y2="517.37" stroke="#333" stroke-width="1"/>
<line x1="44.10" y1="508.95" x2="49.10" y2="508.95" stroke="#333" stroke-width="1"/>
<line x1="64.70" y1="521.07" x2="64.70" y2="533.87" stroke="#333" stroke-width="1"/>
<line x1="62.20" y1="521.07" x2="67.20" y2="521.07" stroke="#333" stroke-width="1"/>
<line x1="82.80" y1="559.46" x2="82.80" y2="564.84" stroke="#333" stroke-width="1"/>
<line x1="80.30" y1="559.46" x2="85.30" y2="559.46" stroke="#333" stroke-width="1"/>
<line x1="100.90" y1="557.77" x2="100.90" y2="565.52" stroke="#333" stroke-width="1"/>
<line x1="98.40" y1="557.77" x2="103.40" y2="557.77" stroke="#333" stroke-width="1"/>
<line x1="119.00" y1="555.08" x2="119.00" y2="565.85" stroke="#333" stroke-width="1"/>
<line x1="116.50" y1="555.08" x2="121.50" y2="555.08" stroke="#333" stroke-width="1"/>
<line x1="137.10" y1="563.83" x2="137.10" y2="578.31" stroke="#333" stroke-width="1"/>
<line x1="134.60" y1="563.83" x2="139.60" y2="563.83" stroke="#333" stroke-width="1"/>
<line x1="155.20" y1="561.14" x2="155.20" y2="569.56" stroke="#333" stroke-width="1"/>
<line x1="152.70" y1="561.14" x2="157.70" y2="561.14" stroke="#333" stroke-width="1"/>
<line x1="191.40" y1="584.71" x2="191.40" y2="590.77" stroke="#333" stroke-width="1"/>
<line x1="188.90" y1="584.71" x2="193.90" y2="584.71" stroke="#333" stroke-width="1"/>
<line x1="46.60" y1="544.64" x2="46.60" y2="554.07" stroke="#333" stroke-width="1"/>
<line x1="44.10" y1="544.64" x2="49.10" y2="544.64" stroke="#333" stroke-width="1"/>
<line x1="64.70" y1="560.80" x2="64.70" y2="566.53" stroke="#333" stroke-width="1"/>
<line x1="62.20" y1="560.80" x2="67.20" y2="560.80" stroke="#333" stroke-width="1"/>
<line x1="100.90" y1="587.40" x2="100.90" y2="591.44" stroke="#333" stroke-width="1"/>
<line x1="98.40" y1="587.40" x2="103.40" y2="587.40" stroke="#333" stroke-width="1"/>
<line x1="155.20" y1="602.22" x2="155.20" y2="603.90" stroke="#333" stroke-width="1"/>
<line x1="152.70" y1="602.22" x2="157.70" y2="602.22" stroke="#333" stroke-width="1"/>
<line x1="46.60" y1="560.80" x2="46.60" y2="570.23" stroke="#333" stroke-width="1"/>
<line x1="44.10" y1="560.80" x2="49.10" y2="560.80" stroke="#333" stroke-width="1"/>
<line x1="82.80" y1="570.57" x2="82.80" y2="581.34" stroke="#333" stroke-width="1"/>
<line x1="80.30" y1="570.57" x2="85.30" y2="570.57" stroke="#333" stroke-width="1"/>
<line x1="100.90" y1="569.56" x2="100.90" y2="581.68" stroke="#333" stroke-width="1"/>
<line x1="98.40" y1="569.56" x2="103.40" y2="569.56" stroke="#333" stroke-width="1"/>
<line x1="119.00" y1="556.76" x2="119.00" y2="574.61" stroke="#333" stroke-width="1"/>
<line x1="116.50" y1="556.76" x2="121.50" y2="556.76" stroke="#333" stroke-width="1"/>
<line x1="137.10" y1="569.56" x2="137.10" y2="578.31" stroke="#333" stroke-width="1"/>
<line x1="134.60" y1="569.56" x2="139.60" y2="569.56" stroke="#333" stroke-width="1"/>
<line x1="155.20" y1="564.84" x2="155.20" y2="579.32" stroke="#333" stroke-width="1"/>
<line x1="152.70" y1="564.84" x2="157.70" y2="564.84" stroke="#333" stroke-width="1"/>
<line x1="173.30" y1="568.55" x2="173.30" y2="583.70" stroke="#333" stroke-width="1"/>
<line x1="170.80" y1="568.55" x2="175.80" y2="568.55" stroke="#333" stroke-width="1"/>
<polyline points="46.60,517.37 64.70,533.87 82.80,564.84 100.90,565.52 119.00,565.85 137.10,578.31 155.20,569.56 173.30,583.70 191.40,590.77" fill="none" stroke="#9a9aee" stroke-width="1.1"/>
<path d="M46.60,515.07L48.90,517.37L46.60,519.67L44.30,517.37Z" fill="#9c9ce8"/>
<path d="M64.70,531.57L67.00,533.87L64.70,536.17L62.40,533.87Z" fill="#9c9ce8"/>
<path d="M82.80,562.54L85.10,564.84L82.80,567.14L80.50,564.84Z" fill="#9c9ce8"/>
<path d="M100.90,563.22L103.20,565.52L100.90,567.82L98.60,565.52Z" fill="#9c9ce8"/>
<path d="M119.00,563.55L121.30,565.85L119.00,568.15L116.70,565.85Z" fill="#9c9ce8"/>
<path d="M137.10,576.01L139.40,578.31L137.10,580.61L134.80,578.31Z" fill="#9c9ce8"/>
<path d="M155.20,567.26L157.50,569.56L155.20,571.86L152.90,569.56Z" fill="#9c9ce8"/>
<path d="M173.30,581.40L175.60,583.70L173.30,586.00L171.00,583.70Z" fill="#9c9ce8"/>
<path d="M191.40,588.47L193.70,590.77L191.40,593.07L189.10,590.77Z" fill="#9c9ce8"/>
<polyline points="46.60,554.07 64.70,566.53 82.80,588.75 100.90,591.44 119.00,600.87 137.10,603.90 155.20,603.90 173.30,603.90 191.40,603.90" fill="none" stroke="#8e2a5c" stroke-width="1.5"/>
<rect x="44.70" y="552.17" width="3.8" height="3.8" fill="#93305f" stroke="#6a1a44" stroke-width="0.6"/>
<rect x="62.80" y="564.63" width="3.8" height="3.8" fill="#93305f" stroke="#6a1a44" stroke-width="0.6"/>
<rect x="80.90" y="586.85" width="3.8" height="3.8" fill="#93305f" stroke="#6a1a44" stroke-width="0.6"/>
<rect x="99.00" y="589.54" width="3.8" height="3.8" fill="#93305f" stroke="#6a1a44" stroke-width="0.6"/>
<rect x="117.10" y="598.97" width="3.8" height="3.8" fill="#93305f" stroke="#6a1a44" stroke-width="0.6"/>
<rect x="135.20" y="602.00" width="3.8" height="3.8" fill="#93305f" stroke="#6a1a44" stroke-width="0.6"/>
<rect x="153.30" y="602.00" width="3.8" height="3.8" fill="#93305f" stroke="#6a1a44" stroke-width="0.6"/>
<rect x="171.40" y="602.00" width="3.8" height="3.8" fill="#93305f" stroke="#6a1a44" stroke-width="0.6"/>
<rect x="189.50" y="602.00" width="3.8" height="3.8" fill="#93305f" stroke="#6a1a44" stroke-width="0.6"/>
<polyline points="46.60,570.23 64.70,575.28 82.80,581.34 100.90,581.68 119.00,574.61 137.10,578.31 155.20,579.32 173.30,583.70 191.40,596.83" fill="none" stroke="#111111" stroke-width="1.8"/>
<path d="M46.60,567.93L48.80,571.93L44.40,571.93Z" fill="#fff" stroke="#111" stroke-width="0.9"/>
<path d="M64.70,572.98L66.90,576.98L62.50,576.98Z" fill="#fff" stroke="#111" stroke-width="0.9"/>
<path d="M82.80,579.04L85.00,583.04L80.60,583.04Z" fill="#fff" stroke="#111" stroke-width="0.9"/>
<path d="M100.90,579.38L103.10,583.38L98.70,583.38Z" fill="#fff" stroke="#111" stroke-width="0.9"/>
<path d="M119.00,572.31L121.20,576.31L116.80,576.31Z" fill="#fff" stroke="#111" stroke-width="0.9"/>
<path d="M137.10,576.01L139.30,580.01L134.90,580.01Z" fill="#fff" stroke="#111" stroke-width="0.9"/>
<path d="M155.20,577.02L157.40,581.02L153.00,581.02Z" fill="#fff" stroke="#111" stroke-width="0.9"/>
<path d="M173.30,581.40L175.50,585.40L171.10,585.40Z" fill="#fff" stroke="#111" stroke-width="0.9"/>
<path d="M191.40,594.53L193.60,598.53L189.20,598.53Z" fill="#fff" stroke="#111" stroke-width="0.9"/>
<path d="M45.70,492.50L45.70,489.40M45.70,492.50L48.65,491.54M45.70,492.50L47.52,495.01M45.70,492.50L43.88,495.01M45.70,492.50L42.75,491.54" stroke="#7a2255" stroke-width="1.5" stroke-linecap="butt" fill="none"/>
<path d="M63.40,492.50L63.40,489.40M63.40,492.50L66.35,491.54M63.40,492.50L65.22,495.01M63.40,492.50L61.58,495.01M63.40,492.50L60.45,491.54" stroke="#7a2255" stroke-width="1.5" stroke-linecap="butt" fill="none"/>
<path d="M81.50,492.50L81.50,489.40M81.50,492.50L84.45,491.54M81.50,492.50L83.32,495.01M81.50,492.50L79.68,495.01M81.50,492.50L78.55,491.54" stroke="#7a2255" stroke-width="1.5" stroke-linecap="butt" fill="none"/>
<path d="M101.10,492.50L101.10,489.40M101.10,492.50L104.05,491.54M101.10,492.50L102.92,495.01M101.10,492.50L99.28,495.01M101.10,492.50L98.15,491.54" stroke="#7a2255" stroke-width="1.5" stroke-linecap="butt" fill="none"/>
<path d="M120.40,492.50L120.40,489.40M120.40,492.50L123.35,491.54M120.40,492.50L122.22,495.01M120.40,492.50L118.58,495.01M120.40,492.50L117.45,491.54" stroke="#7a2255" stroke-width="1.5" stroke-linecap="butt" fill="none"/>
<path d="M138.80,492.50L138.80,489.40M138.80,492.50L141.75,491.54M138.80,492.50L140.62,495.01M138.80,492.50L136.98,495.01M138.80,492.50L135.85,491.54" stroke="#7a2255" stroke-width="1.5" stroke-linecap="butt" fill="none"/>
<path d="M155.30,492.50L155.30,489.40M155.30,492.50L158.25,491.54M155.30,492.50L157.12,495.01M155.30,492.50L153.48,495.01M155.30,492.50L152.35,491.54" stroke="#7a2255" stroke-width="1.5" stroke-linecap="butt" fill="none"/>
<path d="M173.50,492.50L173.50,489.40M173.50,492.50L176.45,491.54M173.50,492.50L175.32,495.01M173.50,492.50L171.68,495.01M173.50,492.50L170.55,491.54" stroke="#7a2255" stroke-width="1.5" stroke-linecap="butt" fill="none"/>
<path d="M188.80,492.50L188.80,489.40M188.80,492.50L191.75,491.54M188.80,492.50L190.62,495.01M188.80,492.50L186.98,495.01M188.80,492.50L185.85,491.54" stroke="#7a2255" stroke-width="1.5" stroke-linecap="butt" fill="none"/>
<rect x="189.5" y="527.5" width="62.0" height="41.0" fill="#fff" stroke="#222" stroke-width="1"/>
<line x1="193.3" y1="535.4" x2="209" y2="535.4" stroke="#9a9aee" stroke-width="1.1"/>
<path d="M201.15,533.10L203.45,535.40L201.15,537.70L198.85,535.40Z" fill="#9c9ce8"/>
<text x="210.8" y="538.6" font-size="9.4" text-anchor="start" fill="#111" font-family="Liberation Sans, sans-serif"  stroke="#111" stroke-width="0.12">Wt</text>
<line x1="193.3" y1="548.4" x2="209" y2="548.4" stroke="#8e2a5c" stroke-width="1.5"/>
<rect x="199.25" y="546.50" width="3.8" height="3.8" fill="#93305f" stroke="#6a1a44" stroke-width="0.6"/>
<text x="210.8" y="551.6" font-size="9.4" text-anchor="start" fill="#111" font-family="Liberation Sans, sans-serif"  stroke="#111" stroke-width="0.12">CD40-/-</text>
<line x1="193.3" y1="561.8" x2="209" y2="561.8" stroke="#111111" stroke-width="1.8"/>
<path d="M201.15,559.50L203.35,563.50L198.95,563.50Z" fill="#fff" stroke="#111" stroke-width="0.9"/>
<text x="210.8" y="565.0" font-size="9.4" text-anchor="start" fill="#111" font-family="Liberation Sans, sans-serif"  stroke="#111" stroke-width="0.12">CD40L-/-</text>
<polygon points="46.20,500.70 46.99,502.81 49.24,502.91 47.48,504.32 48.08,506.49 46.20,505.25 44.32,506.49 44.92,504.32 43.16,502.91 45.41,502.81" fill="#f0eed4" stroke="#c4c2a0" stroke-width="0.9"/>
<polygon points="64.30,500.70 65.09,502.81 67.34,502.91 65.58,504.32 66.18,506.49 64.30,505.25 62.42,506.49 63.02,504.32 61.26,502.91 63.51,502.81" fill="#f0eed4" stroke="#c4c2a0" stroke-width="0.9"/>
<text x="216.8" y="619.5" font-size="9.5" text-anchor="middle" font-weight="bold" fill="#000" font-family="Liberation Sans, sans-serif" >level</text>
<text x="0" y="0" font-size="8.6" font-weight="bold" fill="#111" font-family="Liberation Sans, sans-serif" transform="translate(12.3,521.8) rotate(-90)">ratio</text>
<text x="275" y="480.2" font-size="16.6" text-anchor="start" font-weight="bold" fill="#000" font-family="Liberation Sans, sans-serif" >I</text>
<text x="351.5" y="481" font-size="11.1" text-anchor="start" font-weight="bold" fill="#000" font-family="Liberation Sans, sans-serif"  textLength="90.6" lengthAdjust="spacingAndGlyphs">Maximal stenosis</text>
<line x1="316.3" y1="501.70000000000005" x2="316.3" y2="611.2" stroke="#777" stroke-width="1"/>
<line x1="313.3" y1="611.20" x2="316.3" y2="611.20" stroke="#777" stroke-width="1"/>
<text x="309.40000000000003" y="614.0" font-size="8.4" text-anchor="end" fill="#222" font-family="Liberation Sans, sans-serif"  stroke="#222" stroke-width="0.12">0</text>
<line x1="313.3" y1="589.30" x2="316.3" y2="589.30" stroke="#777" stroke-width="1"/>
<text x="309.40000000000003" y="592.1" font-size="8.4" text-anchor="end" fill="#222" font-family="Liberation Sans, sans-serif"  stroke="#222" stroke-width="0.12">20</text>
<line x1="313.3" y1="567.40" x2="316.3" y2="567.40" stroke="#777" stroke-width="1"/>
<text x="309.40000000000003" y="570.2" font-size="8.4" text-anchor="end" fill="#222" font-family="Liberation Sans, sans-serif"  stroke="#222" stroke-width="0.12">40</text>
<line x1="313.3" y1="545.50" x2="316.3" y2="545.50" stroke="#777" stroke-width="1"/>
<text x="309.40000000000003" y="548.3" font-size="8.4" text-anchor="end" fill="#222" font-family="Liberation Sans, sans-serif"  stroke="#222" stroke-width="0.12">60</text>
<line x1="313.3" y1="523.60" x2="316.3" y2="523.60" stroke="#777" stroke-width="1"/>
<text x="309.40000000000003" y="526.4" font-size="8.4" text-anchor="end" fill="#222" font-family="Liberation Sans, sans-serif"  stroke="#222" stroke-width="0.12">80</text>
<line x1="313.3" y1="501.70" x2="316.3" y2="501.70" stroke="#777" stroke-width="1"/>
<text x="309.40000000000003" y="504.50000000000006" font-size="8.4" text-anchor="end" fill="#222" font-family="Liberation Sans, sans-serif"  stroke="#222" stroke-width="0.12">100</text>
<line x1="360.0" y1="512.43" x2="360.0" y2="514.18" stroke="#222" stroke-width="1"/>
<line x1="358.2" y1="512.43" x2="361.8" y2="512.43" stroke="#222" stroke-width="1.2"/>
<rect x="342.5" y="514.18" width="35.0" height="97.02" fill="#9999ff" stroke="#2a1030" stroke-width="1"/>
<line x1="395.5" y1="528.75" x2="395.5" y2="537.29" stroke="#222" stroke-width="1"/>
<line x1="393.7" y1="528.75" x2="397.3" y2="528.75" stroke="#222" stroke-width="1.2"/>
<rect x="377.5" y="537.29" width="36.0" height="73.91" fill="#993366" stroke="#2a1030" stroke-width="1"/>
<line x1="431.1" y1="545.94" x2="431.1" y2="557.44" stroke="#222" stroke-width="1"/>
<line x1="429.3" y1="545.94" x2="432.90000000000003" y2="545.94" stroke="#222" stroke-width="1.2"/>
<rect x="413.5" y="557.44" width="35.19999999999999" height="53.76" fill="#ffffcc" stroke="#2a1030" stroke-width="1"/>
<line x1="316.3" y1="611.2" x2="474.9" y2="611.2" stroke="#777" stroke-width="1"/>
<path d="M395.20,520.50L395.20,517.35M395.20,520.50L398.20,519.53M395.20,520.50L397.05,523.05M395.20,520.50L393.35,523.05M395.20,520.50L392.20,519.53" stroke="#111" stroke-width="1.5" stroke-linecap="butt" fill="none"/>
<path d="M430.90,537.30L430.90,534.15M430.90,537.30L433.90,536.33M430.90,537.30L432.75,539.85M430.90,537.30L429.05,539.85M430.90,537.30L427.90,536.33" stroke="#111" stroke-width="1.5" stroke-linecap="butt" fill="none"/>
<rect x="468.7" y="536.4" width="49.19999999999999" height="41.10000000000002" fill="#fff" stroke="#555" stroke-width="1"/>
<rect x="472.0" y="541.6" width="5.8" height="5.8" fill="#9999ff" stroke="#333" stroke-width="1"/>
<text x="481.0" y="547.6" font-size="8.75" text-anchor="start" fill="#111" font-family="Liberation Sans, sans-serif"  stroke="#111" stroke-width="0.12">wt</text>
<rect x="472.0" y="554.5" width="5.8" height="5.8" fill="#993366" stroke="#333" stroke-width="1"/>
<text x="481.0" y="560.5" font-size="8.75" text-anchor="start" fill="#111" font-family="Liberation Sans, sans-serif"  stroke="#111" stroke-width="0.12">CD40-/-</text>
<rect x="472.0" y="567.7" width="5.8" height="5.8" fill="#ffffcc" stroke="#333" stroke-width="1"/>
<text x="481.0" y="573.7" font-size="8.75" text-anchor="start" fill="#111" font-family="Liberation Sans, sans-serif"  stroke="#111" stroke-width="0.12">CD40L-/-</text>
<text x="0" y="0" font-size="9.2" font-weight="bold" fill="#111" font-family="Liberation Sans, sans-serif" transform="translate(287.6,511) rotate(-90)">%</text>
</svg>
</body></html>
